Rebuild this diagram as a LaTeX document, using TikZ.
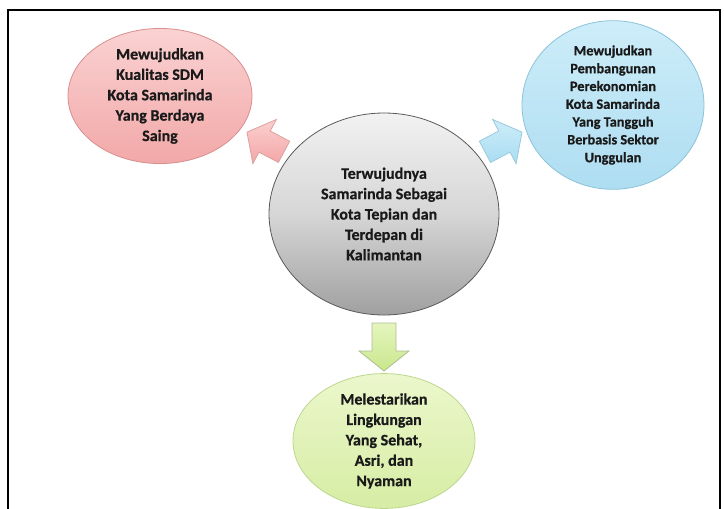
\documentclass[tikz,border=0pt]{standalone}
\usepackage{fontspec}
\setmainfont{Carlito}[BoldFeatures={FakeBold=0.6}]
\usetikzlibrary{shapes.geometric}
\definecolor{redfillA}{HTML}{FAD2D2}
\definecolor{redfillB}{HTML}{F2A8A8}
\definecolor{redline}{HTML}{D98E8E}
\definecolor{redarrA}{HTML}{FBD0D0}
\definecolor{redarrB}{HTML}{F4A6A6}
\definecolor{redarrline}{HTML}{DDA0A0}
\definecolor{bluefillA}{HTML}{CDEDF9}
\definecolor{bluefillB}{HTML}{AEDDF1}
\definecolor{blueline}{HTML}{8CC3D8}
\definecolor{bluearrA}{HTML}{CDEDF9}
\definecolor{bluearrB}{HTML}{A9DCF2}
\definecolor{bluearrline}{HTML}{98CADD}
\definecolor{grayfillA}{HTML}{F2F2F2}
\definecolor{grayfillM}{HTML}{D6D6D6}
\definecolor{grayfillB}{HTML}{A0A0A0}
\definecolor{grayline}{HTML}{5A5A5A}
\definecolor{greenfillA}{HTML}{ECF7CC}
\definecolor{greenfillB}{HTML}{D6EDA4}
\definecolor{greenline}{HTML}{BCD68E}
\definecolor{greenarrA}{HTML}{E4F5BE}
\definecolor{greenarrB}{HTML}{C9E78C}
\definecolor{greenarrline}{HTML}{AEBE93}
\definecolor{textcol}{HTML}{1A1A1A}
\begin{document}
\begin{tikzpicture}[x=1pt,y=-1pt,
  ell/.style={ellipse, inner sep=0pt, align=center, text=textcol,
    font=\fontsize{16}{20.4}\selectfont\bfseries, line width=0.8pt},
  pics/blockarr/.style={code={
    \path[pic actions] (-#1,-12) -- (1,-12) -- (1,-25) -- (21,0)
      -- (1,25) -- (1,12) -- (-#1,12) -- cycle;}},
  arrline/.style={line width=0.8pt, line join=miter}
]
\useasboundingbox (0,0) rectangle (724,509);
\draw[line width=2.5pt] (8,512) -- (8,10) -- (720,10) -- (720,512);

\node[ell, minimum width=184pt, minimum height=127pt,
  top color=redfillA, bottom color=redfillB, draw=redline] (sdm) at (160,96)
  {Mewujudkan\\Kualitas SDM\\Kota Samarinda\\Yang Berdaya\\Saing};

\node[ell, minimum width=182pt, minimum height=146pt,
  font=\fontsize{14.3}{17.8}\selectfont\bfseries,
  top color=bluefillA, bottom color=bluefillB, draw=blueline] (eko) at (613,105)
  {Mewujudkan\\Pembangunan\\Perekonomian\\Kota Samarinda\\Yang Tangguh\\Berbasis Sektor\\Unggulan};

\node[ell, minimum width=230pt, minimum height=202pt,
  top color=grayfillA, bottom color=grayfillB, middle color=grayfillM,
  draw=grayline] (visi) at (384,214)
  {Terwujudnya\\Samarinda Sebagai\\Kota Tepian dan\\Terdepan di\\Kalimantan};

\node[ell, minimum width=182pt, minimum height=122pt,
  top color=greenfillA, bottom color=greenfillB, draw=greenline] (lingk) at (384,441)
  {Melestarikan\\Lingkungan\\Yang Sehat,\\Asri, dan\\Nyaman};

\pic[rotate=152, arrline, top color=redarrA, bottom color=redarrB,
  draw=redarrline] (arrsdm) at (265.5,142) {blockarr=21};
\pic[rotate=28, arrline, top color=bluearrA, bottom color=bluearrB,
  draw=bluearrline] (arreko) at (503.5,142) {blockarr=21};
\pic[rotate=270, arrline, top color=greenarrA, bottom color=greenarrB,
  draw=greenarrline] (arrlingk) at (384,350) {blockarr=27};
\end{tikzpicture}
\end{document}
